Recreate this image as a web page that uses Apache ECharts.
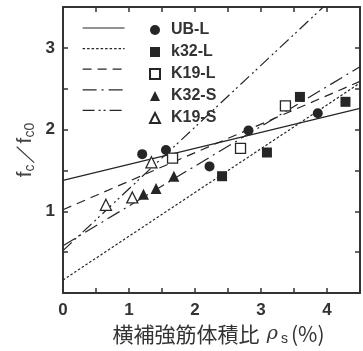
<!DOCTYPE html>
<html>
<head>
<meta charset="utf-8">
<script src="https://cdn.jsdelivr.net/npm/echarts@6/dist/echarts.min.js"></script>
<style>
  html,body{margin:0;padding:0;background:#fff;}
  #chart{width:363px;height:351px;}
</style>
</head>
<body>
<div id="chart"></div>
<script>
// 測定点
const names = ['UB-L', 'k32-L', 'K19-L', 'K32-S', 'K19-S'];
const ubX  = [1.20, 1.56, 2.22, 2.81, 3.86];
const ubY  = [1.70, 1.75, 1.55, 1.99, 2.20];
const k32lX = [2.41, 3.09, 3.59, 4.28];
const k32lY = [1.43, 1.72, 2.40, 2.34];
const k19lX = [1.66, 2.69, 3.37];
const k19lY = [1.65, 1.77, 2.29];
const k32sX = [1.22, 1.41, 1.68];
const k32sY = [1.21, 1.28, 1.43];
const k19sX = [0.65, 1.05, 1.34];
const k19sY = [1.08, 1.17, 1.60];
// 回帰直線 (x=0 と x=4.5 での値)
const fitX = [0, 4.5];
const fitStart = [1.38, 0.16, 1.02, 0.58, 0.52];
const fitEnd   = [2.26, 2.57, 2.59, 2.77, 3.92];
// 目盛
const xTicks = [0, 1, 2, 3, 4];
const yTicks = [1, 2, 3];

const pts = [[ubX, ubY], [k32lX, k32lY], [k19lX, k19lY], [k32sX, k32sY], [k19sX, k19sY]];
const symbols = ['circle', 'rect', 'rect', 'triangle', 'triangle'];
const sizes = [10, 10, 10, 11, 11];
const hollow = [false, false, true, false, true];
const dashes = ['solid', [2.5, 2], [9, 6], [14, 5, 2, 5], [12, 4, 2, 3, 2, 4]];
const ink = '#262626';

let chart = echarts.init(document.getElementById('chart'));
let series = [];
names.forEach((n, i) => {
  series.push({
    name: n + ' fit',
    type: 'line',
    symbol: 'none',
    z: 2,
    data: fitX.map((x, k) => [x, k === 0 ? fitStart[i] : fitEnd[i]]),
    lineStyle: { color: ink, width: 1.2, type: dashes[i] },
    itemStyle: { color: ink }
  });
});
names.forEach((n, i) => {
  series.push({
    name: n,
    type: 'scatter',
    z: 5,
    symbol: symbols[i],
    symbolSize: sizes[i],
    data: pts[i][0].map((x, k) => [x, pts[i][1][k]]),
    itemStyle: hollow[i]
      ? { color: '#fff', borderColor: ink, borderWidth: 1.3, opacity: 1 }
      : { color: ink, opacity: 1 }
  });
});

const axisCommon = {
  type: 'value',
  interval: 0.5,
  axisLine: { show: true, onZero: false, lineStyle: { color: '#333', width: 2 } },
  axisTick: { show: true, inside: true, length: 5, lineStyle: { color: '#333', width: 1.5 } },
  splitLine: { show: false }
};

let option = {
  animation: false,
  grid: { left: 63, top: 7, width: 299, height: 288 },
  legend: [
    {
      // 線種の凡例
      orient: 'vertical', left: 77, top: 16,
      itemWidth: 42, itemHeight: 14, itemGap: 8,
      data: names.map(n => n + ' fit'),
      formatter: () => '',
      selectedMode: false,
      itemStyle: { opacity: 0 },
      lineStyle: { width: 1.2 }
    },
    {
      // 記号の凡例
      orient: 'vertical', left: 144, top: 17,
      itemWidth: 10, itemHeight: 10, itemGap: 6,
      data: names,
      selectedMode: false,
      textStyle: { fontFamily: 'Liberation Sans, Arial', fontWeight: 'bold', fontSize: 16, color: '#333', padding: [0, 0, 0, 6] }
    }
  ],
  xAxis: [
    Object.assign({}, axisCommon, {
      min: 0, max: 4.5, position: 'bottom',
      axisLabel: {
        margin: 9, fontFamily: 'Liberation Sans, Arial', fontWeight: 'bold', fontSize: 17, color: '#333',
        formatter: v => xTicks.includes(v) ? String(v) : ''
      },
      name: '{c|横補強筋体積比} {r|ρ}{s|s}{c|(%)}',
      nameLocation: 'middle', nameGap: 27,
      nameTextStyle: {
        padding: [0, 0, 0, 14],
        rich: {
          c: { fontFamily: 'Noto Sans CJK JP', fontSize: 21, color: '#333' },
          r: { fontFamily: 'DejaVu Serif', fontStyle: 'italic', fontSize: 19, color: '#333', padding: [0, 0, 0, 4] },
          s: { fontFamily: 'Liberation Sans', fontSize: 14, color: '#333', padding: [9, 3, 0, 3] }
        }
      }
    }),
    Object.assign({}, axisCommon, {
      min: 0, max: 4.5, position: 'top',
      axisLabel: { show: false }
    })
  ],
  yAxis: [
    Object.assign({}, axisCommon, {
      min: 0, max: 3.5, position: 'left',
      axisLabel: {
        margin: 8, fontFamily: 'Liberation Sans, Arial', fontWeight: 'bold', fontSize: 17, color: '#333',
        formatter: v => yTicks.includes(v) ? String(v) : ''
      },
      name: '{m|f}{s|c}{m|／f}{s|c0}',
      nameLocation: 'middle', nameGap: 26, nameRotate: 90,
      nameMoveOverlap: false,
      nameTextStyle: {
        rich: {
          m: { fontFamily: 'Liberation Sans', fontSize: 21, color: '#444' },
          s: { fontFamily: 'Liberation Sans', fontSize: 14, color: '#444', padding: [9, 0, 0, 0] }
        }
      }
    }),
    Object.assign({}, axisCommon, {
      min: 0, max: 3.5, position: 'right',
      axisLabel: { show: false }
    })
  ],
  series: series
};
chart.setOption(option);
</script>
</body>
</html>
